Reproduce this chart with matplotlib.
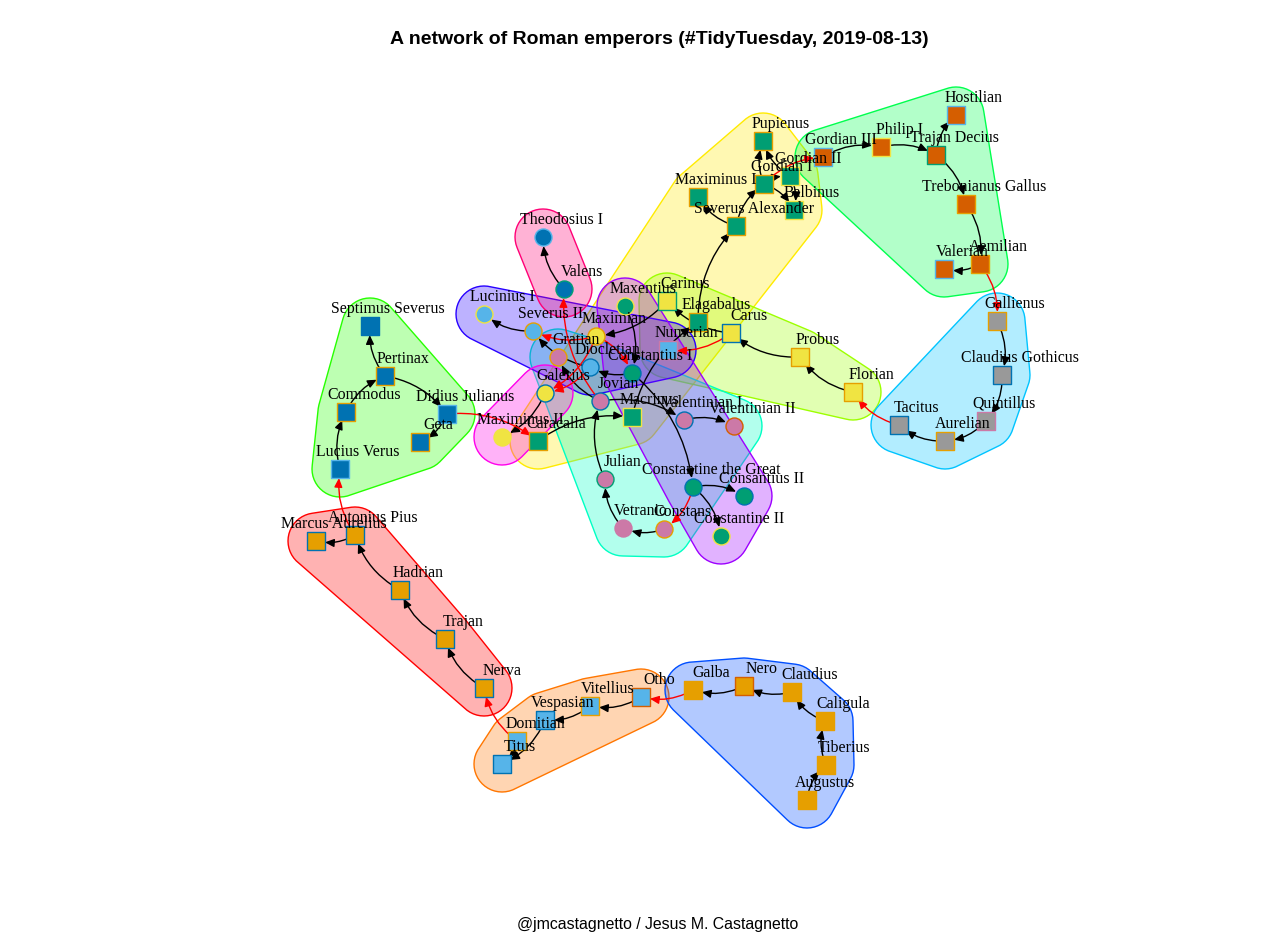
import numpy as np
import matplotlib
matplotlib.use("Agg")
import matplotlib.pyplot as plt
from matplotlib.patches import FancyArrowPatch, Polygon
from matplotlib.colors import hsv_to_rgb

# emperors, layout coordinates (graph layout space, y grows downwards)
names = ["Augustus", "Tiberius", "Caligula", "Claudius", "Nero", "Galba",
         "Otho", "Vitellius", "Vespasian", "Domitian", "Titus",
         "Nerva", "Trajan", "Hadrian", "Antonius Pius", "Marcus Aurelius",
         "Lucius Verus", "Commodus", "Pertinax", "Septimus Severus", "Didius Julianus", "Geta",
         "Caracalla", "Macrinus", "Elagabalus", "Severus Alexander", "Maximinus I",
         "Gordian I", "Gordian II", "Pupienus", "Balbinus",
         "Gordian III", "Philip I", "Trajan Decius", "Hostilian", "Trebonianus Gallus",
         "Aemilian", "Valerian",
         "Gallienus", "Claudius Gothicus", "Quintillus", "Aurelian", "Tacitus",
         "Florian", "Probus", "Carus", "Carinus", "Numerian",
         "Diocletian", "Maximian", "Constantius I", "Galerius", "Severus II", "Lucinius I",
         "Maxentius", "Maximinus II",
         "Constantine the Great", "Consantius II", "Constantine II", "Constans", "Vetranio",
         "Julian", "Jovian", "Valentinian I", "Valens", "Gratian", "Valentinian II",
         "Theodosius I"]
lay_x = [807, 826, 825, 792, 744, 693,
         641, 590, 545, 517, 502,
         484, 445, 400, 355, 316,
         340, 346, 385, 370, 447, 420,
         538, 632, 698, 736, 698,
         764, 790, 763, 794,
         823, 881, 936, 956, 966,
         980, 944,
         997, 1002, 986, 945, 899,
         853, 800, 731, 667, 668,
         590, 596, 632, 545, 533, 484,
         625, 502,
         693, 744, 721, 664, 623,
         605, 600, 684, 564, 558, 734,
         543]
lay_y = [800, 765, 721, 692, 686, 690,
         697, 706, 720, 741, 764,
         688, 639, 590, 535, 541,
         469, 412, 376, 326, 414, 442,
         441, 417, 322, 226, 197,
         184, 176, 141, 210,
         157, 147, 155, 115, 204,
         264, 269,
         321, 375, 421, 441, 425,
         392, 357, 333, 301, 350,
         367, 336, 373, 393, 331, 314,
         306, 437,
         487, 496, 536, 529, 528,
         479, 401, 420, 289, 357, 426,
         237]
square_nodes = names[:48]

okabe = {"orange": "#E69F00", "sky": "#56B4E9", "green": "#009E73", "yellow": "#F0E442",
         "blue": "#0072B2", "verm": "#D55E00", "purple": "#CC79A7", "grey": "#999999"}
fill = ["orange"] * 6 + ["sky"] * 5 + ["orange"] * 5 + ["blue"] * 6 + ["green"] * 9 \
    + ["verm"] * 7 + ["grey"] * 5 + ["yellow"] * 4 + ["sky"] \
    + ["sky", "yellow", "green", "yellow", "sky", "sky", "green", "yellow"] \
    + ["green", "green", "green", "purple", "purple", "purple", "purple", "purple",
       "blue", "purple", "purple", "blue"]
border = ["orange", "orange", "orange", "orange", "verm", "orange",
          "verm", "orange", "blue", "orange", "blue",
          "blue", "blue", "blue", "blue", "blue",
          "sky", "orange", "orange", "blue", "sky", "orange",
          "orange", "yellow", "orange", "orange", "orange", "orange", "yellow", "orange", "yellow",
          "sky", "yellow", "green", "sky", "orange", "orange", "sky",
          "orange", "blue", "purple", "orange", "blue",
          "orange", "orange", "blue", "green", "purple",
          "blue", "orange", "blue", "blue", "orange", "yellow", "yellow", "yellow",
          "blue", "blue", "yellow", "orange", "purple",
          "green", "blue", "blue", "green", "orange", "verm",
          "sky"]

# communities (in plotting order)
groups = [
    ["Nerva", "Trajan", "Hadrian", "Antonius Pius", "Marcus Aurelius"],
    ["Otho", "Vitellius", "Vespasian", "Domitian", "Titus"],
    ["Caracalla", "Macrinus", "Elagabalus", "Severus Alexander", "Maximinus I",
     "Gordian I", "Gordian II", "Pupienus", "Balbinus"],
    ["Carinus", "Numerian", "Carus", "Probus", "Florian"],
    ["Lucius Verus", "Commodus", "Pertinax", "Septimus Severus", "Didius Julianus", "Geta"],
    ["Gordian III", "Philip I", "Trajan Decius", "Hostilian", "Trebonianus Gallus",
     "Aemilian", "Valerian"],
    ["Gratian", "Diocletian", "Jovian", "Valentinian I", "Valentinian II", "Julian",
     "Vetranio", "Constans"],
    ["Gallienus", "Claudius Gothicus", "Quintillus", "Aurelian", "Tacitus"],
    ["Augustus", "Tiberius", "Caligula", "Claudius", "Nero", "Galba"],
    ["Lucinius I", "Severus II", "Maximian", "Diocletian", "Numerian"],
    ["Maxentius", "Constantius I", "Constantine the Great", "Consantius II", "Constantine II"],
    ["Galerius", "Maximinus II"],
    ["Theodosius I", "Valens"],
]

succession = [
    ("Augustus", "Tiberius"), ("Tiberius", "Caligula"), ("Caligula", "Claudius"),
    ("Claudius", "Nero"), ("Nero", "Galba"),
    ("Otho", "Vitellius"), ("Vitellius", "Vespasian"), ("Vespasian", "Titus"), ("Domitian", "Titus"),
    ("Nerva", "Trajan"), ("Trajan", "Hadrian"), ("Hadrian", "Antonius Pius"),
    ("Antonius Pius", "Marcus Aurelius"),
    ("Lucius Verus", "Commodus"), ("Commodus", "Pertinax"), ("Pertinax", "Septimus Severus"),
    ("Pertinax", "Didius Julianus"), ("Didius Julianus", "Geta"),
    ("Caracalla", "Macrinus"), ("Macrinus", "Elagabalus"), ("Elagabalus", "Severus Alexander"),
    ("Severus Alexander", "Maximinus I"), ("Severus Alexander", "Gordian I"),
    ("Gordian I", "Pupienus"), ("Gordian I", "Gordian II"), ("Gordian I", "Balbinus"),
    ("Gordian II", "Pupienus"), ("Gordian II", "Balbinus"),
    ("Gordian III", "Philip I"), ("Philip I", "Trajan Decius"), ("Trajan Decius", "Hostilian"),
    ("Trajan Decius", "Trebonianus Gallus"), ("Trebonianus Gallus", "Aemilian"),
    ("Aemilian", "Valerian"),
    ("Gallienus", "Claudius Gothicus"), ("Claudius Gothicus", "Quintillus"),
    ("Quintillus", "Aurelian"), ("Aurelian", "Tacitus"),
    ("Florian", "Probus"), ("Probus", "Carus"), ("Carus", "Carinus"), ("Carinus", "Maximian"),
    ("Severus II", "Lucinius I"), ("Constantius I", "Diocletian"), ("Diocletian", "Severus II"),
    ("Galerius", "Maximinus II"), ("Constantius I", "Constantine the Great"),
    ("Maxentius", "Constantius I"),
    ("Constantine the Great", "Consantius II"), ("Constantine the Great", "Constantine II"),
    ("Constans", "Vetranio"), ("Vetranio", "Julian"), ("Julian", "Jovian"),
    ("Jovian", "Gratian"), ("Jovian", "Valentinian I"), ("Valentinian I", "Valentinian II"),
    ("Valens", "Theodosius I"),
]
crossing = [
    ("Galba", "Otho"), ("Domitian", "Nerva"), ("Antonius Pius", "Lucius Verus"),
    ("Didius Julianus", "Caracalla"), ("Gordian I", "Gordian III"), ("Aemilian", "Gallienus"),
    ("Tacitus", "Florian"), ("Carus", "Numerian"), ("Maximian", "Severus II"),
    ("Maximian", "Constantius I"), ("Maximian", "Galerius"), ("Diocletian", "Galerius"),
    ("Jovian", "Valens"), ("Constantine the Great", "Constans"),
]

pos = {n: (x, y) for n, x, y in zip(names, lay_x, lay_y)}


def rounded_hull(pts, r, n=48):
    ang = np.linspace(0, 2 * np.pi, n, endpoint=False)
    cloud = np.concatenate([np.column_stack([x + r * np.cos(ang), y + r * np.sin(ang)])
                            for x, y in pts])
    cloud = sorted(map(tuple, cloud))

    def cross(o, a, b):
        return (a[0] - o[0]) * (b[1] - o[1]) - (a[1] - o[1]) * (b[0] - o[0])

    lower, upper = [], []
    for p in cloud:
        while len(lower) >= 2 and cross(lower[-2], lower[-1], p) <= 0:
            lower.pop()
        lower.append(p)
    for p in reversed(cloud):
        while len(upper) >= 2 and cross(upper[-2], upper[-1], p) <= 0:
            upper.pop()
        upper.append(p)
    return np.array(lower[:-1] + upper[:-1])


fig = plt.figure(figsize=(12.8, 9.36), dpi=100)
ax = fig.add_axes([0, 0, 1, 1])
ax.set_xlim(0, 1280)
ax.set_ylim(936, 0)
ax.axis("off")

# community hulls, rainbow colours like igraph
ng = len(groups)
for i, g in enumerate(groups):
    rgb = hsv_to_rgb((i / ng, 1, 1))
    outline = rounded_hull([pos[n] for n in g], 28)
    ax.add_patch(Polygon(outline, closed=True, facecolor=(*rgb, 0.3),
                         edgecolor=rgb, lw=1, zorder=1))

# edges
for edges, col in [(succession, "black"), (crossing, "red")]:
    for a, b in edges:
        arr = FancyArrowPatch(pos[a], pos[b], connectionstyle="arc3,rad=-0.2",
                              arrowstyle="-|>,head_length=0.45,head_width=0.2",
                              mutation_scale=12, color=col, lw=1,
                              shrinkA=6, shrinkB=6.5, zorder=2)
        ax.add_patch(arr)

# vertices
for n, x, y, f, b in zip(names, lay_x, lay_y, fill, border):
    mk = "s" if n in square_nodes else "o"
    ax.scatter(x, y, s=150, marker=mk, facecolor=okabe[f], edgecolor=okabe[b],
               linewidths=1, zorder=3)

# labels
for n, x, y in zip(names, lay_x, lay_y):
    ax.text(x + 18, y - 17, n, ha="center", va="center", fontsize=11.4,
            family="Liberation Serif", color="black", zorder=4)

fig.text(659 / 1280, 1 - 40 / 936, "A network of Roman emperors (#TidyTuesday, 2019-08-13)",
         ha="center", va="center", fontsize=14, fontweight="bold", family="Liberation Sans")
fig.text(658 / 1280, 1 - 924 / 936, "@jmcastagnetto / Jesus M. Castagnetto",
         ha="center", va="center", fontsize=11.4, family="Liberation Sans")

fig.savefig("out.png", dpi=100)
